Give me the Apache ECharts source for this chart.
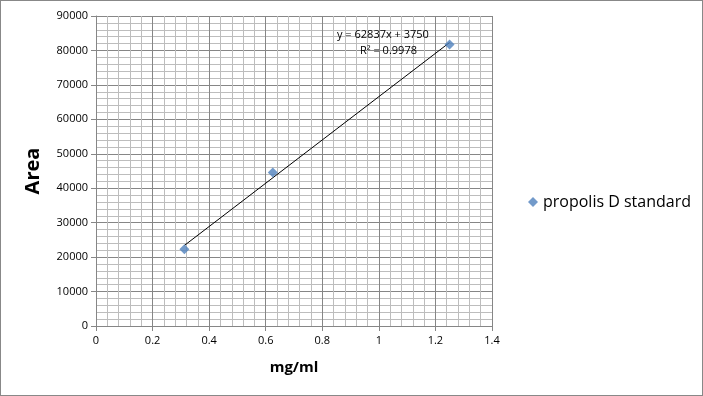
<!DOCTYPE html>
<html><head><meta charset="utf-8">
<script src="https://cdn.jsdelivr.net/npm/echarts@6/dist/echarts.min.js"></script>
<style>html,body{margin:0;padding:0;background:#fff}#c{width:703px;height:396px;box-sizing:border-box;border:1px solid #888}</style>
</head><body><div id="c"></div>
<script>
const seriesName = 'propolis D standard';
const xValues = [0.3125, 0.625, 1.25];
const yValues = [22300, 44600, 81700];
const trendSlope = 62837;
const trendIntercept = 3750;
const trendRange = [0.3125, 1.25];
const equationText = 'y = 62837x + 3750';
const r2Text = 'R² = 0.9978';

const chart = echarts.init(document.getElementById('c'));
const font = 'Open Sans, Noto Sans, sans-serif';
chart.setOption({
  animation: false,
  grid: {left: 95, right: 210, top: 15, bottom: 69},
  legend: {
    data: [seriesName], left: 522, top: 188, icon: 'diamond', itemWidth: 10, itemHeight: 10, itemGap: 5,
    textStyle: {fontSize: 16, color: '#000', fontFamily: font}
  },
  xAxis: {
    type: 'value', min: 0, max: 1.4, interval: 0.2,
    name: 'mg/ml', nameLocation: 'middle', nameGap: 34,
    nameTextStyle: {fontSize: 15, fontWeight: 'bold', color: '#000', fontFamily: font},
    axisLine: {lineStyle: {color: '#868686'}},
    axisTick: {show: true, length: 5, lineStyle: {color: '#868686'}},
    axisLabel: {fontSize: 11, color: '#000', fontFamily: font, margin: 9, formatter: v => String(+v.toFixed(1))},
    splitLine: {lineStyle: {color: '#868686', width: 1}},
    minorTick: {show: false, splitNumber: 5},
    minorSplitLine: {show: true, lineStyle: {color: '#bdbdbd', width: 1}}
  },
  yAxis: {
    type: 'value', min: 0, max: 90000, interval: 10000,
    name: 'Area', nameLocation: 'middle', nameGap: 53, nameRotate: 90,
    nameTextStyle: {fontSize: 20, fontWeight: 'bold', color: '#000', fontFamily: font},
    axisLine: {show: true, lineStyle: {color: '#868686'}},
    axisTick: {show: true, length: 5, lineStyle: {color: '#868686'}},
    axisLabel: {fontSize: 11, color: '#000', fontFamily: font, margin: 8, formatter: v => String(v)},
    splitLine: {lineStyle: {color: '#868686', width: 1}},
    minorTick: {show: false, splitNumber: 5},
    minorSplitLine: {show: true, lineStyle: {color: '#bdbdbd', width: 1}}
  },
  series: [
    {
      name: 'trend', type: 'line', silent: true, symbol: 'none',
      lineStyle: {color: '#000', width: 1},
      data: trendRange.map(x => [x, trendSlope * x + trendIntercept]),
      z: 2
    },
    {
      name: seriesName, type: 'scatter', symbol: 'diamond', symbolSize: 10,
      itemStyle: {color: '#4F81BD'},
      data: xValues.map((x, i) => [x, yValues[i]]),
      z: 3
    }
  ],
  graphic: [
    {type: 'text', left: 336, top: 28, z: 10, style: {text: equationText, fontSize: 11, fill: '#000', fontFamily: font}},
    {type: 'text', left: 359, top: 44, z: 10, style: {text: r2Text, fontSize: 11, fill: '#000', fontFamily: font}}
  ]
});
</script></body></html>
